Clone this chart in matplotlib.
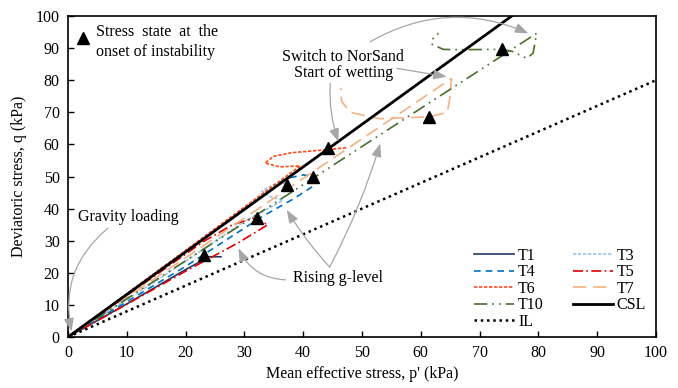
import matplotlib
matplotlib.use("Agg")
import matplotlib.pyplot as plt

plt.rcParams['font.family'] = ['Liberation Serif', 'DejaVu Serif']
plt.rcParams['mathtext.fontset'] = 'stix'

# ---------------- data ----------------
t1_p = [0, 10, 20, 23, 23.6, 23.2, 26]
t1_q = [0, 10.3, 21, 24, 25.3, 25, 25]

t3_p = [0, 15, 30, 36.5, 34, 33, 35, 37.5]
t3_q = [0, 17.5, 36, 42.5, 44, 45.5, 47.5, 48]

t4_p = [0, 20, 33, 38.5, 41.7, 41.8, 40, 37.5, 35]
t4_q = [0, 22, 37.5, 43.2, 47, 50, 50.5, 49.5, 47.3]

t5_p = [0, 23, 28, 31.5, 34, 29, 20, 10, 0]
t5_q = [0, 29.7, 35, 37, 35, 29.4, 20.5, 10.2, 0]

t6_p = [0, 20, 39.5, 36, 33.5, 35, 38, 43, 47.5]
t6_q = [0, 27, 53.3, 53, 54.2, 56.3, 57.4, 58.2, 59]

t7_p = [0, 65.2, 65, 64.5, 61.4, 53, 48, 46.5, 46.5, 46.3]
t7_q = [0, 80.5, 75, 70, 68.6, 68, 70, 73.5, 77, 77.6]

t10_p = [0, 79.7, 79.1, 78, 75.7, 73.8, 66, 63.8, 61.8, 62.1, 63]
t10_q = [0, 94.6, 88.4, 86.8, 88.9, 89.6, 89.5, 89.6, 91.3, 93, 94.6]

csl_p = [0, 100]
csl_slope = 1.325
il_p = [0, 100]
il_slope = 0.8

inst_p = [23.2, 32.1, 37.2, 41.7, 44.2, 61.4, 73.8]
inst_q = [25.5, 37.0, 47.3, 49.9, 58.8, 68.6, 89.6]

x_ticks = list(range(0, 101, 10))
y_ticks = list(range(0, 101, 10))

# ---------------- figure ----------------
fig = plt.figure(figsize=(6.78, 3.88), dpi=100)
ax = fig.add_axes([68/678, 1-337/388, (656-68)/678, (337-16)/388])

fs = 11.5
lw = 1.2
h = {}
h['T1'], = ax.plot(t1_p, t1_q, color='#1f3864', lw=lw, ls='-', label='T1')
h['T3'], = ax.plot(t3_p, t3_q, color='#9dc3e6', lw=lw, ls=(0, (2, 1)), label='T3')
h['T4'], = ax.plot(t4_p, t4_q, color='#0070c0', lw=lw, ls=(0, (4, 3)), label='T4')
h['T5'], = ax.plot(t5_p, t5_q, color='#e00000', lw=lw, ls=(0, (6, 2, 1, 2)), label='T5')
h['T6'], = ax.plot(t6_p, t6_q, color='#ff4a1c', lw=lw, ls=(0, (2, 1)), label='T6')
h['T7'], = ax.plot(t7_p, t7_q, color='#f4b183', lw=lw, ls=(0, (8, 4)), label='T7')
h['T10'], = ax.plot(t10_p, t10_q, color='#4a6e2e', lw=lw, ls=(0, (8, 3, 1, 3, 1, 3)), label='T10')
h['CSL'], = ax.plot(csl_p, [csl_slope*p for p in csl_p], color='black', lw=2.0, label='CSL')
h['IL'], = ax.plot(il_p, [il_slope*p for p in il_p], color='black', lw=1.8, ls=(0, (1, 1.5)), label='IL')

ax.plot(inst_p, inst_q, ls='none', marker='^', color='black', ms=8, zorder=5)

ax.set_xlim(0, 100)
ax.set_ylim(0, 100)
ax.set_xticks(x_ticks)
ax.set_yticks(y_ticks)
ax.tick_params(direction='in', length=4, width=1, labelsize=fs, top=False, right=False, pad=6)
for s in ax.spines.values():
    s.set_linewidth(1.2)
ax.set_xlabel("Mean effective stress, p' (kPa)", fontsize=fs, labelpad=3)
ax.set_ylabel("Deviatoric stress, q (kPa)", fontsize=fs, labelpad=6)

order = ['T1', 'T4', 'T6', 'T10', 'IL', 'T3', 'T5', 'T7', 'CSL']
leg = ax.legend([h[k] for k in order], order, ncol=2, loc='lower right',
                bbox_to_anchor=(0.995, 0.0), frameon=False, fontsize=fs,
                handlelength=2.5, handletextpad=0.25, columnspacing=1.8,
                labelspacing=0.03, borderaxespad=0.05)

# instability legend note
ax.plot([2.6], [93], ls='none', marker='^', color='black', ms=8)
ax.text(4.8, 94.9, "Stress  state  at  the", fontsize=fs, va='center', ha='left')
ax.text(4.8, 88.9, "onset of instability", fontsize=fs, va='center', ha='left')

arrow_kw = dict(arrowstyle='-|>,head_length=0.8,head_width=0.3', color='#a6a6a6', lw=0.9,
                shrinkA=0, shrinkB=0)

ax.text(10.2, 37.4, "Gravity loading", fontsize=fs, ha='center', va='center')
ax.annotate('', xy=(0.6, 1.7), xytext=(6.8, 33.9),
            arrowprops=dict(connectionstyle='arc3,rad=0.3', **arrow_kw))

ax.text(46, 18.3, "Rising g-level", fontsize=fs, ha='center', va='center')
ax.annotate('', xy=(29, 27.6), xytext=(37.0, 17.8),
            arrowprops=dict(connectionstyle='arc3,rad=-0.3', **arrow_kw))
ax.annotate('', xy=(37.2, 39.6), xytext=(44.5, 21.8),
            arrowprops=dict(connectionstyle='arc3,rad=-0.05', **arrow_kw))
ax.annotate('', xy=(53.1, 60.3), xytext=(44.5, 21.8),
            arrowprops=dict(connectionstyle='arc3,rad=0.05', **arrow_kw))

ax.text(46.8, 87.3, "Switch to NorSand", fontsize=fs, ha='center', va='center')
ax.text(46.8, 82.1, "Start of wetting", fontsize=fs, ha='center', va='center')
ax.annotate('', xy=(78.3, 94.6), xytext=(51.4, 92),
            arrowprops=dict(connectionstyle='arc3,rad=-0.25', **arrow_kw))
ax.annotate('', xy=(64.4, 81.1), xytext=(55.9, 83.7),
            arrowprops=dict(connectionstyle='arc3,rad=0.0', **arrow_kw))
ax.annotate('', xy=(46, 60.8), xytext=(44.6, 79),
            arrowprops=dict(connectionstyle='arc3,rad=0.1', **arrow_kw))

fig.savefig('out.png', dpi=100)
